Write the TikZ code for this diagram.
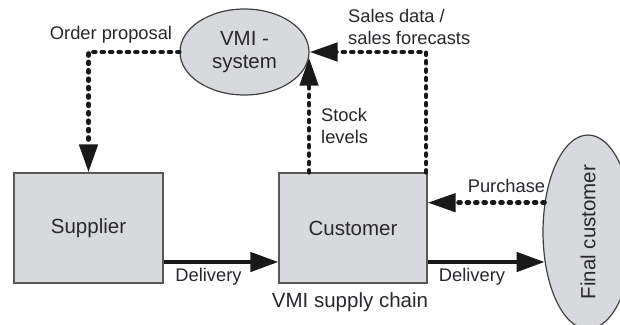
\documentclass[tikz,border=0pt]{standalone}
\usepackage{fontspec}
\setmainfont{Liberation Sans}
\usetikzlibrary{arrows.meta,shapes.geometric}
\definecolor{boxfill}{RGB}{216,217,220}
\definecolor{txt}{RGB}{40,40,45}
\newcommand\bigf{\fontsize{20.5pt}{23pt}\selectfont}
\newcommand\smallf{\fontsize{18.3pt}{22.5pt}\selectfont}
\begin{document}
\begin{tikzpicture}[x=1pt,y=-1pt,
  box/.style={draw=black!65, line width=1.2pt, fill=boxfill, minimum width=149pt, minimum height=110pt, inner sep=0pt, font=\bigf, text=txt},
  ell/.style={ellipse, draw=black!75, line width=1.2pt, fill=boxfill, inner sep=0pt, font=\bigf, text=txt, align=center},
  lbl/.style={font=\smallf, text=txt, inner sep=0pt},
  dotarrow/.style={line width=4.6pt, line cap=round, dash pattern=on 2pt off 6.4pt, -{Triangle[length=28pt,width=18pt]}, draw=black!90},
  deliv/.style={line width=4.5pt, -{Triangle[length=28pt,width=19pt]}, draw=black!90}]
\useasboundingbox (0,0) rectangle (620,324);
\clip (0,0) rectangle (620,324);
\fill[white] (0,0) rectangle (620,324);

\node[box] (sup) at (88.5,228) {Supplier};
\node[box, minimum width=148pt] (cust) at (353,228) {Customer};
\node[ell, minimum width=129pt, minimum height=86pt] (vmi) at (244.5,52) {VMI -\\system};
\node[ell, minimum width=90pt, minimum height=194pt] (fc) at (588,232) {\rotatebox{90}{Final customer}};

\draw[dotarrow] (vmi.west) -| (sup.north);
\draw[dotarrow] (cust.north -| vmi.-5) -- (vmi.-5);
\draw[dotarrow] ([xshift=-1.5pt]cust.north east) |- (vmi.east);
\draw[dotarrow] (fc.146) -- (fc.146 -| cust.east);
\draw[deliv] ([yshift=-34pt]sup.east) -- ([yshift=-34pt]cust.west);
\coordinate (d2) at ([yshift=-34pt]cust.east);
\draw[deliv] (d2) -- (d2 -| fc.215);

\node[lbl] (lop) at (111,35) {Order proposal};
\node[lbl, align=left, anchor=west] (lsd) at (348,27) {Sales data /\\sales forecasts};
\node[lbl, align=left, anchor=west] (lsl) at (321,126) {Stock\\levels};
\node[lbl] (ld1) at (208.5,277) {Delivery};
\node[lbl] (ld2) at (472,277) {Delivery};
\node[lbl] (lp) at (506.5,186) {Purchase};
\node[font=\bigf, text=txt, inner sep=0pt] (lvmi) at (350,302) {VMI supply chain};
\end{tikzpicture}
\end{document}
